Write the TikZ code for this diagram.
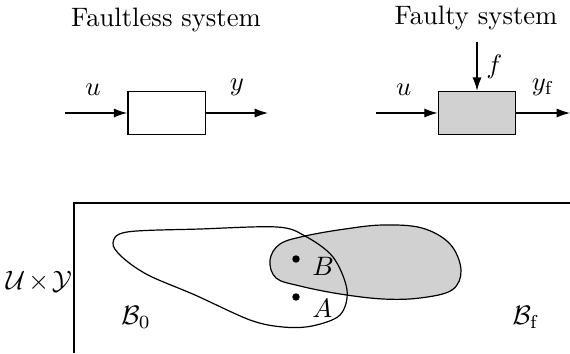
\documentclass[tikz,border=0pt]{standalone}
\usepackage{amsmath,amssymb}
\usetikzlibrary{arrows.meta}

\begin{document}
\begin{tikzpicture}[x=0.375pt,y=-0.375pt,line width=0.45pt,
  >={Latex[length=5pt,width=3.4pt]},
  blk/.style={draw,line width=0.5pt,minimum width=29pt,minimum height=16.2pt,inner sep=0pt},
  dot/.style={circle,fill,inner sep=0pt,minimum size=2.8pt}]
 \useasboundingbox (0,0) rectangle (570,353);
 % faultless system
 \node (tl) at (166,20) {Faultless system};
 \node[blk] (sys) at (166.5,113) {};
 \coordinate (ul) at (65,113);
 \coordinate (yl) at (268,113);
 \draw[->] (ul) -- (sys.west) node [pos=0.45, above=3pt] {$u$};
 \draw[->] (sys.east) -- (yl) node [pos=0.5, above=3pt] {$y$};
 % faulty system
 \node (tr) at (476,18) {Faulty system};
 \node[blk,fill=black!18] (fsys) at (477,113) {};
 \coordinate (ur) at (376,113);
 \coordinate (yr) at (570,113);
 \coordinate (fr) at (fsys.north |- 0,42);
 \draw[->] (ur) -- (fsys.west) node [pos=0.45, above=3pt] {$u$};
 \draw[->] (fsys.east) -- (yr) node [pos=0.5, above=3pt] {$y_{\mathrm{f}}$};
 \draw[->] (fr) -- (fsys.north) node [midway, right] {$f$};
 % behaviours
 \draw (570,203) -- (74,203) -- (74,353);
 \node (uy) at (39,282) {$\mathcal{U}\mkern-2mu\times\mkern-2mu\mathcal{Y}$};
 \filldraw[fill=black!18] plot[smooth cycle,tension=0.6] coordinates
  {(270,260) (280,244) (305,236) (345,229) (383,225) (422,228) (450,244)
   (461,270) (452,290) (420,298) (383,299) (340,294) (300,286) (276,278)};
 \draw plot[smooth cycle,tension=0.55] coordinates
  {(127,232) (200,229) (277,227) (305,236) (333,257) (347,290) (340,315)
   (312,326) (283,327) (250,320) (195,295) (148,275) (122,257) (113,243)};
 \node (b0) at (136,317) {$\mathcal{B}_0$};
 \node (bf) at (526,317) {$\mathcal{B}_{\mathrm{f}}$};
 \node[dot] (pb) at (296,259) {};
 \node[dot] (pa) at (296,297) {};
 \node[anchor=west] (lb) at (303,266) {$B$};
 \node[anchor=west] (la) at (303,308) {$A$};
\end{tikzpicture}
\end{document}
